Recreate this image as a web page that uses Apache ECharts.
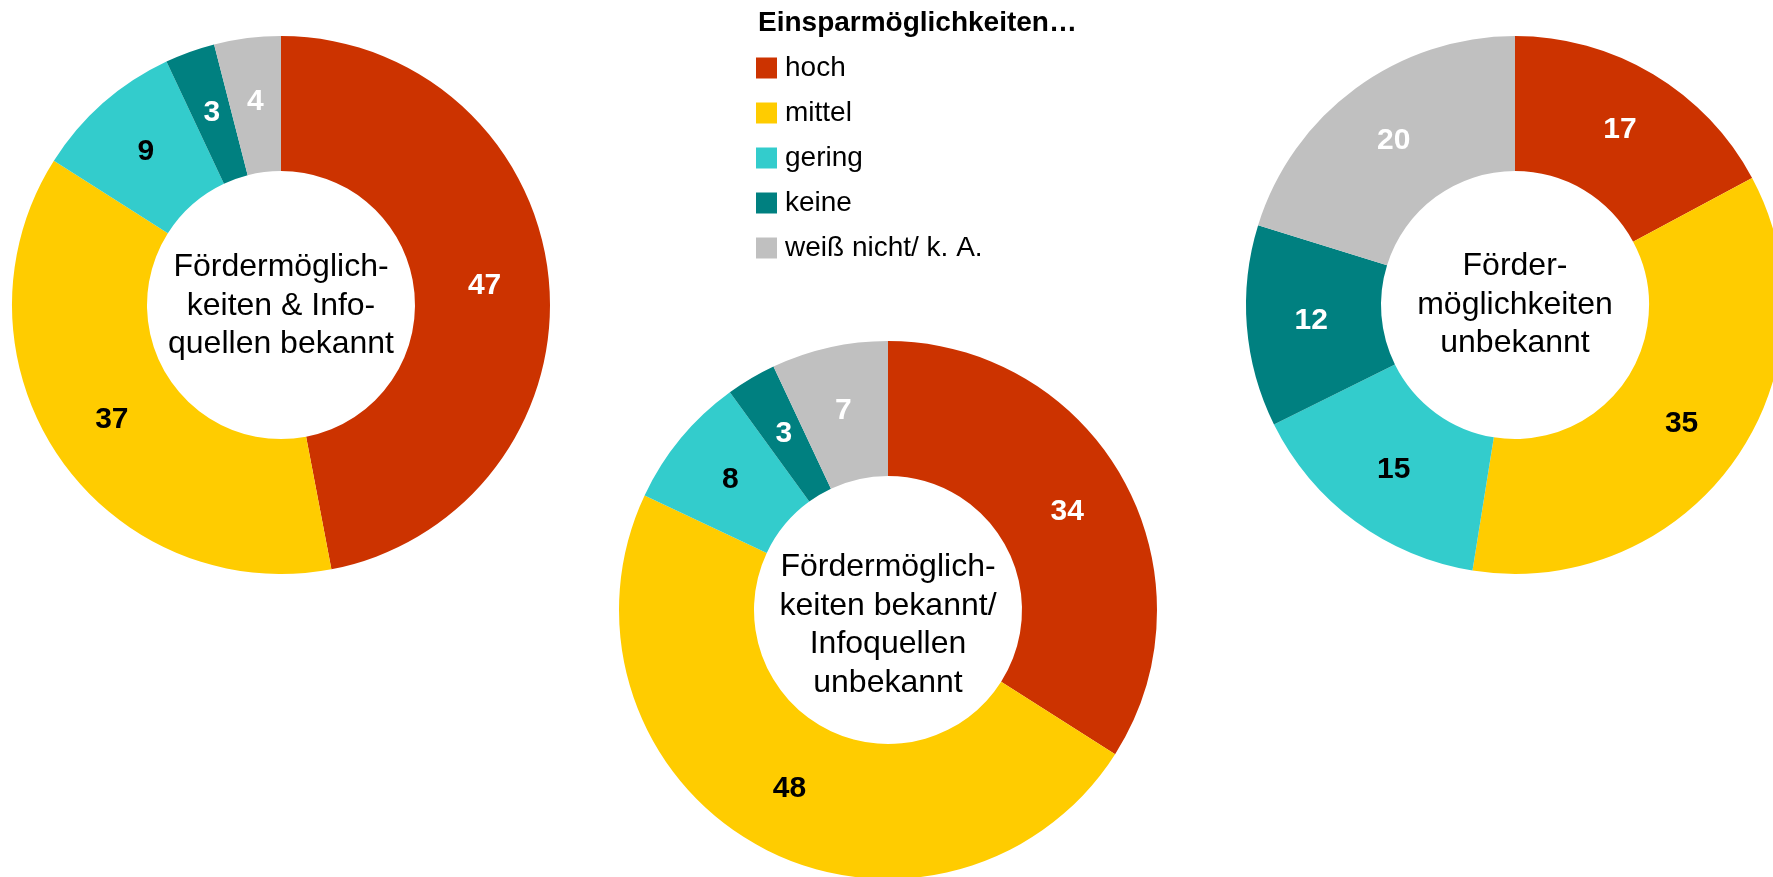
<!DOCTYPE html>
<html>
<head>
<meta charset="utf-8">
<script src="https://cdn.jsdelivr.net/npm/echarts@6/dist/echarts.min.js"></script>
<style>
html,body{margin:0;padding:0;background:#fff;}
#chart{width:1773px;height:877px;}
</style>
</head>
<body>
<div id="chart"></div>
<script>
// Data
const categories = ['hoch', 'mittel', 'gering', 'keine', 'weiß nicht/ k. A.'];
const legendTitle = 'Einsparmöglichkeiten…';
const groupLabels = [
  'Fördermöglich-\nkeiten & Info-\nquellen bekannt',
  'Fördermöglich-\nkeiten bekannt/\nInfoquellen\nunbekannt',
  'Förder-\nmöglichkeiten\nunbekannt'
];
const valuesBekannt = [47, 37, 9, 3, 4];
const valuesInfoUnbekannt = [34, 48, 8, 3, 7];
const valuesUnbekannt = [17, 35, 15, 12, 20];

const colors = ['#CC3300', '#FFCC00', '#33CCCC', '#008080', '#C0C0C0'];
const labelColors = ['#ffffff', '#000000', '#000000', '#ffffff', '#ffffff'];
const FONT = '"Liberation Sans", Arial, Helvetica, sans-serif';

const chart = echarts.init(document.getElementById('chart'), null, {renderer: 'canvas'});

function makePie(values, center) {
  return {
    type: 'pie',
    center: center,
    radius: [134, 269],
    startAngle: 90,
    clockwise: true,
    avoidLabelOverlap: false,
    silent: true,
    animation: false,
    emphasis: {disabled: true, scale: false},
    labelLine: {show: false},
    itemStyle: {borderWidth: 0},
    data: categories.map((c, i) => ({
      name: c,
      value: values[i],
      itemStyle: {color: colors[i]},
      label: {
        show: true,
        position: 'inside',
        formatter: '{c}',
        color: labelColors[i],
        fontFamily: FONT,
        fontWeight: 'bold',
        fontSize: 30
      }
    }))
  };
}

const centerTextStyle = {
  fill: '#000',
  font: '32px ' + FONT,
  align: 'center',
  verticalAlign: 'middle',
  lineHeight: 38.5
};

const option = {
  backgroundColor: '#ffffff',
  animation: false,
  legend: {
    orient: 'vertical',
    left: 756,
    top: 54,
    padding: 0,
    icon: 'rect',
    itemWidth: 21,
    itemHeight: 21,
    itemGap: 17,
    selectedMode: false,
    data: categories,
    textStyle: {
      fontFamily: FONT,
      fontSize: 28,
      lineHeight: 28,
      color: '#000',
      padding: [0, 0, 0, 3]
    }
  },
  graphic: [
    {type: 'text', x: 758, y: 23, style: {text: legendTitle, fill: '#000', font: 'bold 28px ' + FONT, align: 'left', verticalAlign: 'middle'}},
    {type: 'text', x: 281, y: 306, style: Object.assign({text: groupLabels[0]}, centerTextStyle)},
    {type: 'text', x: 888, y: 625, style: Object.assign({text: groupLabels[1]}, centerTextStyle)},
    {type: 'text', x: 1515, y: 305, style: Object.assign({text: groupLabels[2]}, centerTextStyle)}
  ],
  series: [
    makePie(valuesBekannt, [281, 305]),
    makePie(valuesInfoUnbekannt, [888, 610]),
    makePie(valuesUnbekannt, [1515, 305])
  ]
};
chart.setOption(option);
</script>
</body>
</html>
